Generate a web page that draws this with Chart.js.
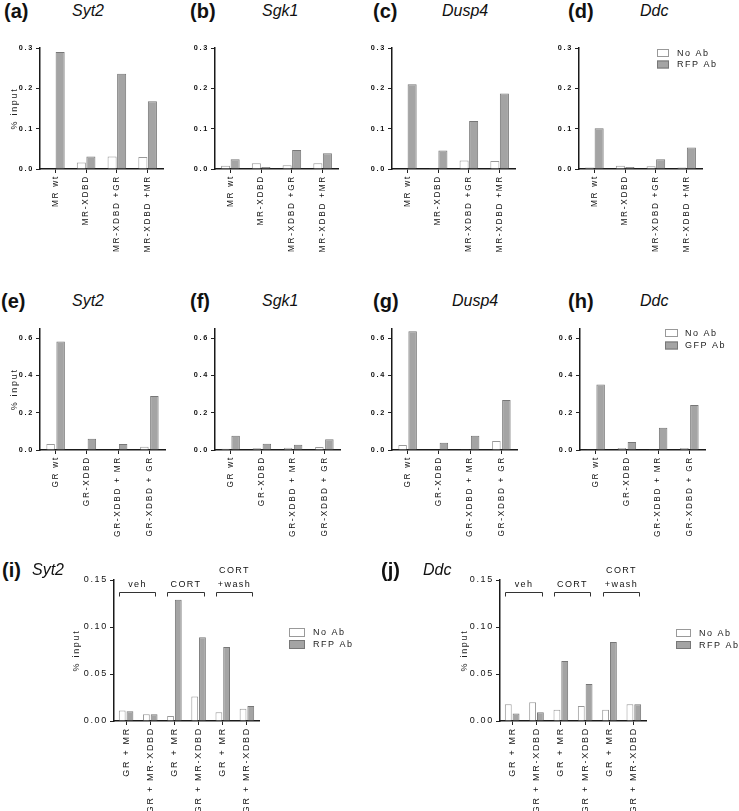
<!DOCTYPE html>
<html>
<head>
<meta charset="utf-8">
<script src="https://cdn.jsdelivr.net/npm/chart.js@4.4.1/dist/chart.umd.min.js"></script>
<style>
  body { margin: 0; background: #fff; width: 739px; height: 811px; position: relative; overflow: hidden; font-family: "Liberation Sans", Arial, sans-serif; }
  canvas { position: absolute; }
  .tag { position: absolute; font-size: 20px; font-weight: bold; color: #111; line-height: 22px; }
  .gene { position: absolute; font-size: 16px; font-style: italic; color: #111; line-height: 22px; }
</style>
</head>
<body>
<script>
// categories
const mrGroups = ["MR wt", "MR-XDBD", "MR-XDBD +GR", "MR-XDBD +MR"];
const grGroups = ["GR wt", "GR-XDBD", "GR-XDBD + MR", "GR-XDBD + GR"];
const cortGroups = ["GR + MR", "GR + MR-XDBD", "GR + MR", "GR + MR-XDBD", "GR + MR", "GR + MR-XDBD"];
const treatments = ["veh", "CORT", ["CORT", "+wash"]];

// tick labels
const mrTicks = [0, 0.1, 0.2, 0.3];
const grTicks = [0, 0.2, 0.4, 0.6];
const cortTicks = [0, 0.05, 0.10, 0.15];

// MR rows (a-d): No Ab / RFP Ab
const syt2MrNoAb = [0, 0.016, 0.031, 0.030];
const syt2MrRfp = [0.290, 0.031, 0.236, 0.168];
const sgk1MrNoAb = [0.008, 0.014, 0.009, 0.014];
const sgk1MrRfp = [0.024, 0.005, 0.047, 0.039];
const dusp4MrNoAb = [0.001, 0.002, 0.021, 0.020];
const dusp4MrRfp = [0.210, 0.046, 0.119, 0.187];
const ddcMrNoAb = [0.004, 0.008, 0.007, 0.004];
const ddcMrRfp = [0.101, 0.005, 0.024, 0.053];

// GR rows (e-h): No Ab / GFP Ab
const syt2GrNoAb = [0.032, 0, 0, 0.018];
const syt2GrGfp = [0.582, 0.060, 0.032, 0.289];
const sgk1GrNoAb = [0.007, 0.009, 0.012, 0.016];
const sgk1GrGfp = [0.076, 0.034, 0.028, 0.057];
const dusp4GrNoAb = [0.027, 0, 0.002, 0.048];
const dusp4GrGfp = [0.637, 0.039, 0.076, 0.268];
const ddcGrNoAb = [0.004, 0.011, 0.002, 0.011];
const ddcGrGfp = [0.351, 0.043, 0.119, 0.241];

// CORT rows (i, j): No Ab / RFP Ab
const syt2CortNoAb = [0.0113, 0.0071, 0.0053, 0.026, 0.0092, 0.013];
const syt2CortRfp = [0.0103, 0.0071, 0.129, 0.089, 0.0787, 0.016];
const ddcCortNoAb = [0.0177, 0.0199, 0.012, 0.016, 0.012, 0.0177];
const ddcCortRfp = [0.008, 0.0092, 0.0638, 0.0394, 0.084, 0.0177];

Chart.defaults.font.family = '"Liberation Sans", Arial, sans-serif';
Chart.defaults.color = "#111";

const spacing = {
  id: "spacing",
  beforeUpdate(chart) { chart.ctx.letterSpacing = "1.7px"; },
  beforeDraw(chart) { chart.ctx.letterSpacing = "1.7px"; }
};

const boxLegend = {
  id: "boxLegend",
  afterDraw(chart, args, o) {
    if (!o || o.x == null) return;
    const ctx = chart.ctx;
    ctx.save();
    ctx.letterSpacing = "1.5px";
    ctx.font = o.size + 'px "Liberation Sans", Arial, sans-serif';
    ctx.textBaseline = "middle";
    ctx.textAlign = "left";
    chart.data.datasets.forEach((ds, i) => {
      const y = o.y + i * o.step;
      ctx.fillStyle = ds.backgroundColor;
      ctx.fillRect(o.x, y, o.w, o.h);
      ctx.strokeStyle = ds.borderColor;
      ctx.lineWidth = 1;
      ctx.strokeRect(o.x + 0.5, y + 0.5, o.w - 1, o.h - 1);
      ctx.fillStyle = "#222";
      ctx.fillText(ds.label, o.x + o.w + o.gap, y + o.h / 2 + 0.5);
    });
    ctx.restore();
  }
};

const groupBrackets = {
  id: "groupBrackets",
  afterDraw(chart, args, o) {
    if (!o || !o.labels) return;
    const ctx = chart.ctx;
    const xs = chart.scales.x;
    const y = Math.round(chart.chartArea.top + 12) + 0.5;
    ctx.save();
    ctx.letterSpacing = "1.4px";
    ctx.strokeStyle = "#333";
    ctx.lineWidth = 1;
    ctx.fillStyle = "#111";
    ctx.font = '9px "Liberation Sans", Arial, sans-serif';
    ctx.textAlign = "center";
    ctx.textBaseline = "middle";
    o.labels.forEach((lab, g) => {
      const x1 = Math.round(xs.getPixelForValue(2 * g) - 7) + 0.5;
      const x2 = Math.round(xs.getPixelForValue(2 * g + 1) + 5) + 0.5;
      ctx.beginPath();
      ctx.moveTo(x1, y + 4);
      ctx.lineTo(x1, y);
      ctx.lineTo(x2, y);
      ctx.lineTo(x2, y + 4);
      ctx.stroke();
      const lines = [].concat(lab);
      lines.forEach((t, k) => {
        ctx.fillText(t, (x1 + x2) / 2, y - 8 - (lines.length - 1 - k) * 14);
      });
    });
    ctx.restore();
  }
};

function addText(cls, text, x, y) {
  const d = document.createElement("div");
  d.className = cls;
  d.textContent = text;
  d.style.left = x + "px";
  d.style.top = y + "px";
  document.body.appendChild(d);
}

// p: axis geometry in page pixels
function panel(p) {
  const left = p.axisX - p.yWidth;
  const width = p.right + p.padRight - left;
  const height = p.bottom - p.top;
  const canvas = document.createElement("canvas");
  canvas.width = width;
  canvas.height = height;
  canvas.style.left = left + "px";
  canvas.style.top = p.top + "px";
  canvas.style.width = width + "px";
  canvas.style.height = height + "px";
  document.body.appendChild(canvas);

  const legendOpts = p.legend ? {
    x: p.legend.x - left, y: p.legend.y - p.top, w: p.legend.w, h: p.legend.h,
    step: p.legend.step, gap: p.legend.gap, size: p.legend.size
  } : {};

  new Chart(canvas, {
    type: "bar",
    data: {
      labels: p.labels,
      datasets: [
        {
          label: "No Ab",
          data: p.noAb,
          backgroundColor: "#ffffff",
          borderColor: "#999999",
          borderWidth: 1,
          borderSkipped: "start",
          barPercentage: p.barPct,
          categoryPercentage: p.catPct
        },
        {
          label: p.abLabel,
          data: p.ab,
          backgroundColor: "#a4a4a4",
          borderColor: "#777777",
          borderWidth: 1,
          borderSkipped: "start",
          barPercentage: p.barPct,
          categoryPercentage: p.catPct
        }
      ]
    },
    options: {
      responsive: false,
      animation: false,
      events: [],
      layout: { padding: { top: p.areaTop - p.top, right: p.padRight, bottom: 0, left: 0 } },
      plugins: {
        legend: { display: false },
        tooltip: { enabled: false },
        boxLegend: legendOpts,
        groupBrackets: p.brackets ? { labels: p.brackets } : {}
      },
      scales: {
        x: {
          type: "category",
          offset: true,
          grid: { display: true, drawOnChartArea: false, offset: false, tickLength: 4, color: "#222", lineWidth: 1 },
          border: { display: true, color: "#1a1a1a", width: 1.5 },
          ticks: {
            minRotation: 90, maxRotation: 90, autoSkip: false, padding: 2,
            font: { size: p.xFont }, color: "#111"
          },
          afterFit(s) { s.height = p.bottom - p.areaBottom; }
        },
        y: {
          min: 0,
          max: p.max,
          grid: { display: true, drawOnChartArea: false, tickLength: 4, color: "#222", lineWidth: 1 },
          border: { display: true, color: "#1a1a1a", width: 1.5 },
          ticks: {
            padding: 2,
            font: { size: p.yFont, weight: p.yBold ? "bold" : "normal" },
            color: "#111",
            callback: (v) => Number(v).toFixed(p.decimals)
          },
          afterBuildTicks(s) { s.ticks = p.ticks.map((v) => ({ value: v })); },
          title: {
            display: !!p.yTitle,
            text: "% input",
            font: { size: 9 },
            color: "#222",
            padding: { top: p.titlePad || 4, bottom: 0 }
          },
          afterFit(s) { s.width = p.yWidth; }
        }
      }
    },
    plugins: [spacing, boxLegend, groupBrackets]
  });
}

const mrRow = { top: 38, bottom: 268, areaTop: 48, areaBottom: 169, max: 0.3, ticks: mrTicks, decimals: 1,
  labels: mrGroups, abLabel: "RFP Ab", yWidth: 36, padRight: 10, barPct: 0.95, catPct: 0.62,
  xFont: 8.3, yFont: 7.3, yBold: true };
const grRow = { top: 318, bottom: 548, areaTop: 328.7, areaBottom: 450, max: 0.65, ticks: grTicks, decimals: 1,
  labels: grGroups, abLabel: "GFP Ab", yWidth: 36, padRight: 10, barPct: 0.85, catPct: 0.64,
  xFont: 8.3, yFont: 7.3, yBold: true };
const cortRow = { top: 560, bottom: 811, areaTop: 580, areaBottom: 721, max: 0.15, ticks: cortTicks, decimals: 2,
  labels: cortGroups, abLabel: "RFP Ab", yWidth: 46, barPct: 0.88, catPct: 0.64,
  xFont: 9, yFont: 9, yBold: false, brackets: treatments };

panel({ ...mrRow, axisX: 40, right: 163, noAb: syt2MrNoAb, ab: syt2MrRfp, yTitle: true, titlePad: 5.5 });
panel({ ...mrRow, axisX: 215, right: 338, noAb: sgk1MrNoAb, ab: sgk1MrRfp });
panel({ ...mrRow, axisX: 392, right: 515, noAb: dusp4MrNoAb, ab: dusp4MrRfp });
panel({ ...mrRow, axisX: 579, right: 702, padRight: 30, noAb: ddcMrNoAb, ab: ddcMrRfp,
  legend: { x: 657, y: 49, w: 12, h: 8, step: 11.5, gap: 8, size: 9 } });

panel({ ...grRow, axisX: 40, right: 165, noAb: syt2GrNoAb, ab: syt2GrGfp, yTitle: true, titlePad: 5.5 });
panel({ ...grRow, axisX: 215, right: 340, noAb: sgk1GrNoAb, ab: sgk1GrGfp });
panel({ ...grRow, axisX: 392, right: 517, noAb: dusp4GrNoAb, ab: dusp4GrGfp });
panel({ ...grRow, axisX: 580, right: 705, padRight: 34, noAb: ddcGrNoAb, ab: ddcGrGfp,
  legend: { x: 665, y: 329, w: 13, h: 8, step: 12.5, gap: 7, size: 9 } });

panel({ ...cortRow, axisX: 114, right: 259, padRight: 100, noAb: syt2CortNoAb, ab: syt2CortRfp, yTitle: true, titlePad: 3.5,
  legend: { x: 289, y: 628, w: 16, h: 9, step: 12, gap: 8, size: 9 } });
panel({ ...cortRow, axisX: 500, right: 646, padRight: 93, noAb: ddcCortNoAb, ab: ddcCortRfp, yTitle: true, titlePad: 5.5,
  legend: { x: 676, y: 629, w: 15, h: 8, step: 12, gap: 8, size: 9 } });

addText("tag", "(a)", 4, 0);   addText("gene", "Syt2", 72, 0);
addText("tag", "(b)", 190, 0); addText("gene", "Sgk1", 262, 0);
addText("tag", "(c)", 373, 0); addText("gene", "Dusp4", 442, 0);
addText("tag", "(d)", 568, 0); addText("gene", "Ddc", 640, 0);
addText("tag", "(e)", 1, 290);   addText("gene", "Syt2", 72, 290);
addText("tag", "(f)", 190, 290); addText("gene", "Sgk1", 262, 290);
addText("tag", "(g)", 373, 290); addText("gene", "Dusp4", 452, 290);
addText("tag", "(h)", 568, 290); addText("gene", "Ddc", 640, 290);
addText("tag", "(i)", 2, 559);   addText("gene", "Syt2", 32, 559);
addText("tag", "(j)", 381, 559); addText("gene", "Ddc", 423, 559);
</script>
</body>
</html>
